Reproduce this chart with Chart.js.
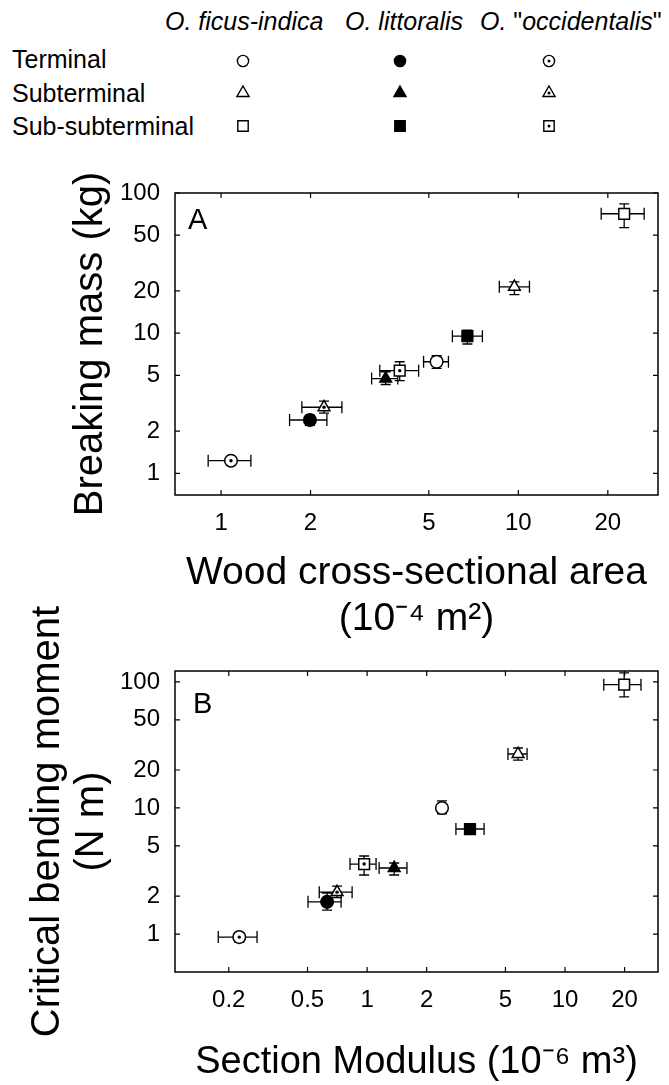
<!DOCTYPE html>
<html>
<head>
<meta charset="utf-8">
<script src="https://cdn.jsdelivr.net/npm/chart.js@4.4.1/dist/chart.umd.min.js"></script>
<style>
  body { margin: 0; background: #fff; font-family: "Liberation Sans", Arial, sans-serif; }
  #page { position: relative; width: 669px; height: 1085px; overflow: hidden; background: #fff; }
  .hdr { position: absolute; top: 9px; font-size: 25px; line-height: 25px; font-style: italic; white-space: nowrap; }
  .hdr span { font-style: normal; }
  .row { position: absolute; left: 12px; font-size: 25px; line-height: 25px; white-space: nowrap; }
  canvas { position: absolute; left: 0; }
</style>
</head>
<body>
<div id="page">
  <div class="hdr" style="left:165px">O. ficus-indica</div>
  <div class="hdr" style="left:345px">O. littoralis</div>
  <div class="hdr" style="left:480px">O. <span>"</span>occidentalis<span>"</span></div>
  <div class="row" style="top:47px">Terminal</div>
  <div class="row" style="top:81px">Subterminal</div>
  <div class="row" style="top:114px">Sub-subterminal</div>
  <canvas id="legendSymbols" width="669" height="150" style="top:0"></canvas>
  <canvas id="chartA" width="669" height="490" style="top:160px"></canvas>
  <canvas id="chartB" width="669" height="505" style="top:580px"></canvas>
</div>
<script>
// especes et positions des branches
const speciesNames = ['O. ficus-indica', 'O. littoralis', 'O. "occidentalis"'];
const positions = ['Terminal', 'Subterminal', 'Sub-subterminal'];

// A : surface de bois (10^-4 m2) / masse de rupture (kg)
const areaFicus = [5.31, 9.70, 22.7];
const areaFicusErr = [[4.80, 5.82], [8.63, 10.9], [19.0, 26.5]];
const massFicus = [6.25, 21.4, 71.1];
const massFicusErr = [[5.6, 6.9], [18.8, 23.2], [56.7, 83.7]];
const areaLittoralis = [1.99, 3.58, 6.74];
const areaLittoralisErr = [[1.70, 2.27], [3.21, 3.93], [6.0, 7.57]];
const massLittoralis = [2.40, 4.74, 9.52];
const massLittoralisErr = [[2.2, 2.6], [4.3, 5.3], [8.37, 10.5]];
const areaOccidentalis = [1.08, 2.22, 3.99];
const areaOccidentalisErr = [[0.905, 1.26], [1.87, 2.55], [3.42, 4.62]];
const massOccidentalis = [1.23, 2.96, 5.40];
const massOccidentalisErr = [[1.17, 1.30], [2.69, 3.27], [4.59, 6.25]];

// B : module de section (10^-6 m3) / moment critique (N m)
const modulusFicus = [2.39, 5.79, 19.9];
const modulusFicusErr = [[2.3, 2.48], [5.15, 6.43], [15.7, 24.2]];
const momentFicus = [10.0, 26.8, 95];
const momentFicusErr = [[9.0, 11.4], [24.0, 29.9], [76, 118]];
const modulusLittoralis = [0.628, 1.37, 3.31];
const modulusLittoralisErr = [[0.503, 0.739], [1.15, 1.59], [2.81, 3.90]];
const momentLittoralis = [1.80, 3.34, 6.81];
const momentLittoralisErr = [[1.55, 2.11], [2.94, 3.66], [6.3, 7.4]];
const modulusOccidentalis = [0.226, 0.705, 0.966];
const modulusOccidentalisErr = [[0.177, 0.278], [0.573, 0.84], [0.82, 1.11]];
const momentOccidentalis = [0.946, 2.15, 3.59];
const momentOccidentalisErr = [[0.86, 1.02], [1.95, 2.40], [2.94, 4.16]];

// graduations
const ticksAx = [1, 2, 5, 10, 20];
const ticksAy = [1, 2, 5, 10, 20, 50, 100];
const ticksBx = [0.2, 0.5, 1, 2, 5, 10, 20];
const ticksBy = [1, 2, 5, 10, 20, 50, 100];

const FONT = '"Liberation Sans", Arial, sans-serif';
Chart.defaults.font.family = FONT;
Chart.defaults.color = '#000';

const shapes = ['circle', 'triangle', 'rect'];
const sizes = [6.3, 6.8, 7.6];
const fills = ['#fff', '#000', '#fff'];

// legende (symboles)
function drawSymbol(ctx, shape, x, y, fill, dot) {
  ctx.beginPath();
  if (shape === 'circle') {
    ctx.arc(x, y, 5.6, 0, Math.PI * 2);
  } else if (shape === 'triangle') {
    const r = 7;
    ctx.moveTo(x, y - r);
    ctx.lineTo(x + r * 0.866, y + r * 0.5);
    ctx.lineTo(x - r * 0.866, y + r * 0.5);
    ctx.closePath();
  } else {
    ctx.rect(x - 5.2, y - 5.2, 10.4, 10.4);
  }
  ctx.fillStyle = fill;
  ctx.fill();
  ctx.lineWidth = 1.4;
  ctx.strokeStyle = '#000';
  ctx.stroke();
  if (dot) {
    ctx.beginPath();
    ctx.arc(x, y, 1.5, 0, Math.PI * 2);
    ctx.fillStyle = '#000';
    ctx.fill();
  }
}
const lctx = document.getElementById('legendSymbols').getContext('2d');
const legendCols = [243, 400, 549];
const legendRows = [61, 93, 126];
speciesNames.forEach((s, i) => {
  positions.forEach((p, j) => {
    drawSymbol(lctx, shapes[j], legendCols[i], legendRows[j], fills[i], i === 2);
  });
});

function buildSets(xs, xErrs, ys, yErrs) {
  return speciesNames.map((name, s) => ({
    label: name,
    data: xs[s].map((x, i) => ({ x: x, y: ys[s][i] })),
    xErr: xErrs[s],
    yErr: yErrs[s],
    centerDot: s === 2,
    pointStyle: shapes,
    pointRadius: sizes,
    pointBackgroundColor: fills[s],
    pointBorderColor: '#000',
    pointBorderWidth: 1.5
  }));
}

// barres d'erreur, cadre, graduations internes, lettre du panneau
const framePlugin = {
  id: 'frame',
  beforeDatasetsDraw(chart, args, opts) {
    const ctx = chart.ctx;
    const xs = chart.scales.x, ys = chart.scales.y;
    const a = chart.chartArea;
    ctx.save();
    ctx.strokeStyle = '#000';
    ctx.lineWidth = 1.5;
    ctx.strokeRect(a.left, a.top, a.right - a.left, a.bottom - a.top);
    ctx.lineWidth = 1.2;
    ctx.beginPath();
    xs.ticks.forEach(t => {
      const px = xs.getPixelForValue(t.value);
      ctx.moveTo(px, a.bottom); ctx.lineTo(px, a.bottom - 5);
      ctx.moveTo(px, a.top); ctx.lineTo(px, a.top + 5);
    });
    ys.ticks.forEach(t => {
      const py = ys.getPixelForValue(t.value);
      ctx.moveTo(a.left, py); ctx.lineTo(a.left + 5, py);
      ctx.moveTo(a.right, py); ctx.lineTo(a.right - 5, py);
    });
    ctx.stroke();

    ctx.lineWidth = 1.3;
    ctx.beginPath();
    chart.data.datasets.forEach(ds => {
      ds.data.forEach((d, i) => {
        const px = xs.getPixelForValue(d.x), py = ys.getPixelForValue(d.y);
        const x0 = xs.getPixelForValue(ds.xErr[i][0]), x1 = xs.getPixelForValue(ds.xErr[i][1]);
        const y0 = ys.getPixelForValue(ds.yErr[i][0]), y1 = ys.getPixelForValue(ds.yErr[i][1]);
        ctx.moveTo(x0, py); ctx.lineTo(x1, py);
        ctx.moveTo(x0, py - 6); ctx.lineTo(x0, py + 6);
        ctx.moveTo(x1, py - 6); ctx.lineTo(x1, py + 6);
        ctx.moveTo(px, y0); ctx.lineTo(px, y1);
        ctx.moveTo(px - 5, y0); ctx.lineTo(px + 5, y0);
        ctx.moveTo(px - 5, y1); ctx.lineTo(px + 5, y1);
      });
    });
    ctx.stroke();

    ctx.fillStyle = '#000';
    ctx.font = '29px ' + FONT;
    ctx.textBaseline = 'alphabetic';
    ctx.fillText(opts.letter, a.left + opts.dx, a.top + opts.dy);
    ctx.restore();
  },
  afterDatasetsDraw(chart) {
    const ctx = chart.ctx;
    ctx.save();
    ctx.fillStyle = '#000';
    chart.data.datasets.forEach((ds, k) => {
      if (!ds.centerDot) return;
      chart.getDatasetMeta(k).data.forEach(pt => {
        ctx.beginPath();
        ctx.arc(pt.x, pt.y, 1.7, 0, Math.PI * 2);
        ctx.fill();
      });
    });
    ctx.restore();
  }
};

function makeChart(id, datasets, c) {
  return new Chart(document.getElementById(id).getContext('2d'), {
    type: 'scatter',
    data: { datasets: datasets },
    plugins: [framePlugin],
    options: {
      responsive: false,
      animation: false,
      events: [],
      layout: { padding: { left: 0, right: 11, top: c.padTop, bottom: 0 } },
      plugins: {
        legend: { display: false },
        tooltip: { enabled: false },
        frame: { letter: c.letter, dx: c.letterDx, dy: c.letterDy }
      },
      scales: {
        x: {
          type: 'logarithmic',
          position: 'bottom',
          min: c.xMin, max: c.xMax,
          afterBuildTicks: s => { s.ticks = c.xTicks.map(v => ({ value: v })); },
          afterFit: s => { s.height = c.xHeight; },
          grid: { display: false, drawTicks: false },
          border: { display: false },
          ticks: { padding: 14, autoSkip: false, maxRotation: 0, font: { size: 24 }, color: '#000', callback: v => String(v) },
          title: { display: true, text: c.xTitle, color: '#000', font: { size: c.xTitleSize, lineHeight: 1.2 }, padding: { top: 0, bottom: c.xTitlePad } }
        },
        y: {
          type: 'logarithmic',
          position: 'left',
          min: c.yMin, max: c.yMax,
          afterBuildTicks: s => { s.ticks = c.yTicks.map(v => ({ value: v })); },
          afterFit: s => { s.width = 175; },
          grid: { display: false, drawTicks: false },
          border: { display: false },
          ticks: { padding: 15, autoSkip: false, font: { size: 24 }, color: '#000', callback: v => String(v) },
          title: { display: true, text: c.yTitle, color: '#000', font: { size: 40, lineHeight: c.yLineHeight }, padding: { top: c.yTitlePad, bottom: 0 } }
        }
      }
    }
  });
}

makeChart('chartA', buildSets(
  [areaFicus, areaLittoralis, areaOccidentalis],
  [areaFicusErr, areaLittoralisErr, areaOccidentalisErr],
  [massFicus, massLittoralis, massOccidentalis],
  [massFicusErr, massLittoralisErr, massOccidentalisErr]
), {
  padTop: 33, xHeight: 155,
  xMin: 0.706, xMax: 29.5, yMin: 0.735, yMax: 100,
  xTicks: ticksAx, yTicks: ticksAy,
  xTitle: ['Wood cross-sectional area', '(10\u207B\u2074 m\u00B2)'], xTitlePad: 7, xTitleSize: 39,
  yTitle: 'Breaking mass (kg)', yTitlePad: 67, yLineHeight: 1.2,
  letter: 'A', letterDx: 13, letterDy: 36
});

makeChart('chartB', buildSets(
  [modulusFicus, modulusLittoralis, modulusOccidentalis],
  [modulusFicusErr, modulusLittoralisErr, modulusOccidentalisErr],
  [momentFicus, momentLittoralis, momentOccidentalis],
  [momentFicusErr, momentLittoralisErr, momentOccidentalisErr]
), {
  padTop: 91, xHeight: 113,
  xMin: 0.107, xMax: 29.5, yMin: 0.5, yMax: 122,
  xTicks: ticksBx, yTicks: ticksBy,
  xTitle: 'Section Modulus (10\u207B\u2076 m\u00B3)', xTitlePad: 0, xTitleSize: 38,
  yTitle: ['Critical bending moment', '(N m)'], yTitlePad: 26, yLineHeight: 1.1,
  letter: 'B', letterDx: 18, letterDy: 42
});
</script>
</body>
</html>
